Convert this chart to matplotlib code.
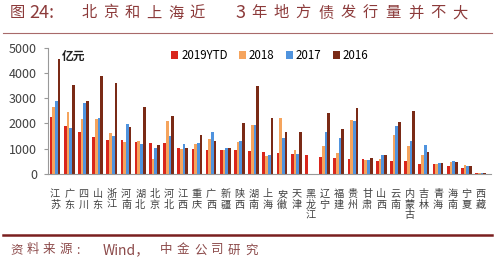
import numpy as np
import matplotlib.pyplot as plt

plt.rcParams['font.family'] = ['Noto Sans CJK SC', 'DejaVu Sans']

# 省份及各年地方债发行量(亿元)
provinces = ['江苏', '广东', '四川', '山东', '浙江', '河南', '湖北', '北京', '河北', '江西',
             '重庆', '广西', '新疆', '陕西', '湖南', '上海', '安徽', '天津', '黑龙江', '辽宁',
             '福建', '贵州', '甘肃', '山西', '云南', '内蒙古', '吉林', '青海', '海南', '宁夏', '西藏']
v2019 = [2260, 1910, 1680, 1480, 1350, 1330, 1280, 1220, 1220, 1020,
         1000, 950, 950, 950, 900, 880, 830, 790, 740, 680,
         650, 590, 580, 520, 520, 520, 410, 400, 300, 240, 20]
v2018 = [2670, 2470, 2170, 2160, 1620, 1280, 1310, 610, 2110, 1000,
         1200, 1370, 950, 1280, 1950, 700, 2230, 940, 0, 1100,
         850, 2130, 560, 580, 1550, 1110, 750, 400, 480, 350, 20]
v2017 = [2880, 1840, 2820, 2220, 1500, 1970, 1180, 1040, 1500, 1170,
         1230, 1680, 1020, 1300, 1950, 750, 1430, 800, 0, 1650,
         1410, 2090, 570, 750, 1910, 1300, 1130, 420, 500, 330, 20]
v2016 = [4550, 3530, 2900, 3900, 3590, 1880, 2650, 1150, 2310, 1020,
         1550, 1300, 1020, 2010, 3500, 2210, 1680, 1650, 0, 2400,
         1770, 2600, 620, 750, 2040, 2500, 890, 420, 490, 330, 20]
series = ['2019YTD', '2018', '2017', '2016']
colors = ['#D9261C', '#F5A45D', '#4F93DE', '#7A2A16']

W, H = 500, 264
fig = plt.figure(figsize=(W / 100, H / 100), dpi=100)
ax = fig.add_axes([0.096, 0.341, 0.885, 0.478])


def spaced_text(x0, y0, chars, pitch, **kw):
    # 逐字排版, 模拟原图中较宽的字距
    for k, ch in enumerate(chars):
        fig.text((x0 + k * pitch) / W, 1 - y0 / H, ch, va='center', **kw)


x = np.arange(len(provinces))
w = 0.19
for i, (vals, c, lab) in enumerate(zip([v2019, v2018, v2017, v2016], colors, series)):
    ax.bar(x + (i - 1.5) * w, vals, width=w, color=c, label=lab)

ax.set_xlim(-0.5, len(provinces) - 0.3)
ax.set_ylim(0, 5000)
ax.set_yticks([0, 1000, 2000, 3000, 4000, 5000])
ax.tick_params(axis='y', labelsize=9, colors='#999999', labelcolor='#404040', length=3, pad=5)
ax.set_xticks(x)
ax.set_xticklabels(['\n'.join(p) for p in provinces], fontsize=7.3, color='#404040',
                   linespacing=1.05, va='top')
ax.tick_params(axis='x', length=0, pad=11)
for s in ['top', 'right']:
    ax.spines[s].set_visible(False)
ax.spines['left'].set_color('#999999')
ax.spines['bottom'].set_color('#999999')

ax.text(0.032, 0.985, '亿元', transform=ax.transAxes, fontsize=8.5, fontweight='bold',
        color='#222222', va='top')
fig.legend(loc='center', bbox_to_anchor=(0.54, 0.79), ncol=4, frameon=False,
           fontsize=8.3, handlelength=0.6, handleheight=0.6, handletextpad=0.25,
           columnspacing=1.0)

# 标题
tcol = '#8C3A3A'
fig.text(10 / W, 1 - 13 / H, '图', fontsize=11, color=tcol, va='center')
fig.text(29 / W, 1 - 13 / H, '24:', fontsize=13, color=tcol, va='center')
spaced_text(82, 13, '北京和上海近', 21.5, fontsize=11, color=tcol)
fig.text(235 / W, 1 - 13 / H, '3', fontsize=13, color=tcol, va='center')
spaced_text(251, 13, '年地方债发行量并不大', 22.4, fontsize=11, color=tcol)
fig.add_artist(plt.Line2D([0.006, 0.984], [0.875, 0.875], color='#A86A6A', lw=0.8))

# 资料来源
fig.add_artist(plt.Line2D([0.006, 0.984], [0.11, 0.11], color='#7A1F1F', lw=1.8))
scol = '#8C4A4A'
spaced_text(10, 250, '资料来源:', 16.5, fontsize=9, color=scol)
fig.text(103 / W, 1 - 250 / H, 'Wind，', fontsize=10, color=scol, va='center')
spaced_text(160, 250, '中金公司研究', 17, fontsize=9, color=scol)

fig.savefig('out.png', dpi=100)
